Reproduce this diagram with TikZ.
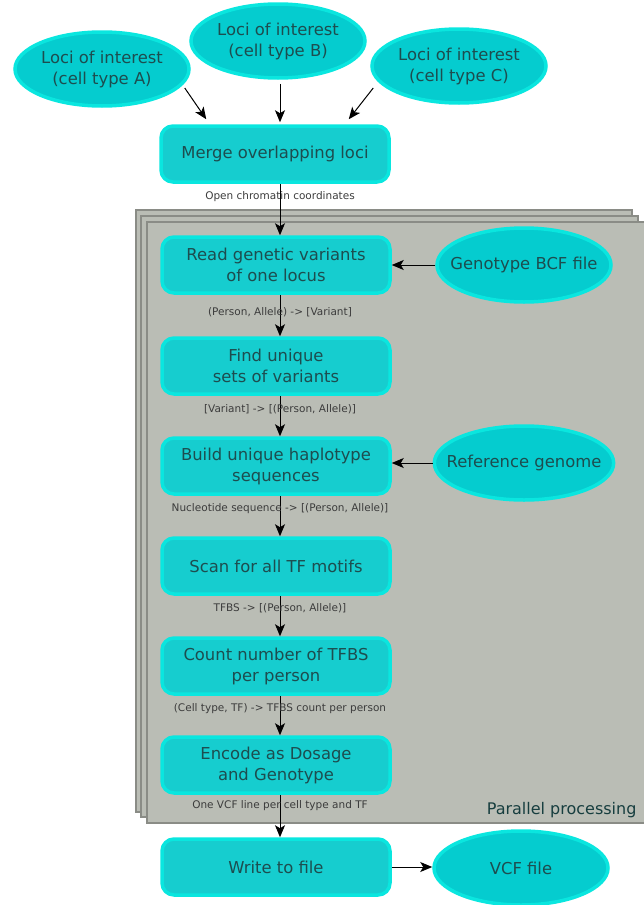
\documentclass[tikz,border=0pt]{standalone}
\usepackage{fontspec}
\setmainfont{DejaVu Sans}
\usetikzlibrary{shapes.geometric,arrows.meta,calc}
\definecolor{boxfill}{HTML}{16CDCF}
\definecolor{ellfill}{HTML}{05CCCF}
\definecolor{rimcol}{HTML}{0AE6DF}
\definecolor{inktxt}{HTML}{1D4D4F}
\definecolor{paneltop}{HTML}{BABDB5}
\definecolor{panelrim}{HTML}{8A8C86}
\definecolor{labeltxt}{HTML}{3C3C3C}
\tikzset{
  stepbox/.style={draw=rimcol, line width=3.5pt, fill=boxfill, rounded corners=12pt,
    minimum width=228pt, minimum height=56pt, align=center, text=inktxt,
    font=\fontsize{16.4}{21}\selectfont},
  datafile/.style={ellipse, draw=rimcol, line width=3.5pt, fill=ellfill,
    inner xsep=-14pt, inner ysep=0pt,
    minimum width=174pt, minimum height=74pt, align=center, text=inktxt,
    font=\fontsize{16.4}{21}\selectfont},
  flowlabel/.style={text=labeltxt, font=\fontsize{10.5}{12}\selectfont, inner sep=1pt},
  panel/.style={draw=panelrim, line width=2pt, fill=paneltop},
  arr/.style={-{Stealth[length=12pt,width=10pt,inset=3pt]}, line width=1pt, black}
}
\begin{document}
\begin{tikzpicture}[x=1pt,y=-1pt]
\useasboundingbox (0,0) rectangle (643,905);

% stacked panels for the per-locus work
\draw[panel] (136,210) rectangle (632,812);
\draw[panel] (141,216) rectangle (638,817);
\draw[panel] (147,222) rectangle (646,823);
\node[anchor=base east, text=inktxt!80!black, font=\fontsize{16}{18}\selectfont] (par) at (640,814) {Parallel processing};

% inputs
\node[datafile] (lociA) at (102,69) {Loci of interest\\(cell type A)};
\node[datafile] (lociB) at (278,41) {Loci of interest\\(cell type B)};
\node[datafile] (lociC) at (459,66) {Loci of interest\\(cell type C)};

% pipeline steps
\node[stepbox] (merge) at (275,154) {Merge overlapping loci};
\node[stepbox] (read)  at (276,265) {Read genetic variants\\of one locus};
\node[stepbox] (uniq)  at (276,366) {Find unique\\sets of variants};
\node[stepbox] (build) at (276,466) {Build unique haplotype\\sequences};
\node[stepbox] (scan)  at (276,566) {Scan for all TF motifs};
\node[stepbox] (count) at (276,666) {Count number of TFBS\\per person};
\node[stepbox] (enc)   at (276,765) {Encode as Dosage\\and Genotype};
\node[stepbox] (write) at (276,867) {Write to file};

% side data
\node[datafile] (bcf) at (524,265) {Genotype BCF file};
\node[datafile] (ref) at (524,463) {Reference genome};
\node[datafile] (vcf) at (521,868) {VCF file};

% merging the loci sets
\draw[arr] ($(lociA.east)+(-6,19)$) -- ($(merge.north west)+(47,-5)$);
\draw[arr] ($(lociB.south)+(2,4)$) -- ($(merge.north)+(5,-2)$);
\draw[arr] ($(lociC.west)+(3,22)$) -- ($(merge.north east)+(-42,-5)$);

% main flow with data labels
\draw[arr] ($(merge.south)+(5,0)$) -- ($(read.north)+(4,0)$);
\node[flowlabel] (l1) at (280,197) {Open chromatin coordinates};
\draw[arr] ($(read.south)+(4,0)$) -- ($(uniq.north)+(4,0)$);
\node[flowlabel] (l2) at (280,312) {(Person, Allele) -> [Variant]};
\draw[arr] ($(uniq.south)+(4,0)$) -- ($(build.north)+(4,0)$);
\node[flowlabel] (l3) at (280,409) {[Variant] -> [(Person, Allele)]};
\draw[arr] ($(build.south)+(4,0)$) -- ($(scan.north)+(4,0)$);
\node[flowlabel] (l4) at (280,509) {Nucleotide sequence -> [(Person, Allele)]};
\draw[arr] ($(scan.south)+(4,0)$) -- ($(count.north)+(4,0)$);
\node[flowlabel] (l5) at (280,608) {TFBS -> [(Person, Allele)]};
\draw[arr] ($(count.south)+(4,0)$) -- ($(enc.north)+(4,0)$);
\node[flowlabel] (l6) at (280,709) {(Cell type, TF) -> TFBS count per person};
\draw[arr] ($(enc.south)+(4,0)$) -- ($(write.north)+(4,0)$);
\node[flowlabel] (l7) at (280,806) {One VCF line per cell type and TF};

% side inputs and output
\draw[arr] (bcf.west) -- (bcf.west -| read.east);
\draw[arr] (ref.west) -- (ref.west -| build.east);
\draw[arr] (write.east) -- (write.east -| vcf.west);
\end{tikzpicture}
\end{document}
